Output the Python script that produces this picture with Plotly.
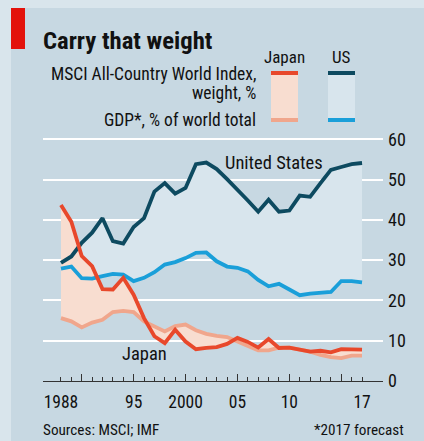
import plotly.graph_objects as go

years = list(range(1988, 2018))
us_msci = [29.3, 30.9, 34.3, 36.8, 40.4, 34.7, 34.1, 38.2, 40.4, 47.0, 49.1, 46.5, 47.9, 53.8,
           54.2, 52.6, 50.1, 47.6, 44.8, 42.0, 45.0, 42.0, 42.3, 46.0, 45.7, 49.1, 52.4, 53.1, 53.8, 54.1]
us_gdp = [27.9, 28.4, 25.5, 25.4, 26.0, 26.6, 26.4, 24.8, 25.6, 27.0, 28.9, 29.5, 30.5, 31.8,
          31.9, 29.7, 28.4, 28.1, 27.2, 25.1, 23.5, 24.1, 22.7, 21.3, 21.7, 21.8, 22.1, 24.8, 24.8, 24.5]
jp_msci = [43.7, 39.5, 31.0, 28.5, 22.8, 22.7, 25.6, 21.4, 15.6, 11.1, 9.4, 12.7, 9.8, 7.9,
           8.2, 8.4, 9.2, 10.7, 9.7, 8.3, 10.4, 8.2, 8.3, 7.8, 7.3, 7.5, 7.1, 7.9, 7.8, 7.8]
jp_gdp = [15.6, 14.8, 13.3, 14.5, 15.2, 17.1, 17.4, 17.1, 14.8, 13.6, 12.3, 13.6, 14.0, 12.6,
          11.7, 11.2, 10.9, 9.8, 8.6, 7.6, 7.6, 8.3, 8.3, 7.8, 7.3, 6.5, 5.9, 5.7, 6.3, 6.3]

label_years = [1988, 1995, 2000, 2005, 2010, 2017]
label_text = ["1988", "95", "2000", "05", "10", "17"]
long_tick_years = [1990, 1995, 2000, 2005, 2010, 2015]
y_ticks = [0, 10, 20, 30, 40, 50, 60]

C_US = "#0d4a60"
C_USG = "#1a9fd9"
C_JP = "#e8482b"
C_JPG = "#f0a68c"
F_US = "#d8e5ed"
F_JP = "#f8ddd0"
PANEL = "#c7d8e2"
OUTER = "#d9e5ec"
FONT = "Liberation Sans Narrow, Roboto Condensed, Roboto, sans-serif"

W, H = 424, 441
ML, MR, MT, MB = 43, 41, 138, 60
PW, PH = W - ML - MR, H - MT - MB

def px(x):
    return (x - ML) / PW

def py(y):
    return (H - MB - y) / PH

fig = go.Figure()
# fills
fig.add_trace(go.Scatter(x=years, y=us_gdp, mode="lines", line=dict(width=0), hoverinfo="skip", showlegend=False))
fig.add_trace(go.Scatter(x=years, y=us_msci, mode="lines", line=dict(width=0), fill="tonexty",
                         fillcolor=F_US, hoverinfo="skip", showlegend=False))
fig.add_trace(go.Scatter(x=years, y=jp_gdp, mode="lines", line=dict(width=0), hoverinfo="skip", showlegend=False))
fig.add_trace(go.Scatter(x=years, y=jp_msci, mode="lines", line=dict(width=0), fill="tonexty",
                         fillcolor=F_JP, hoverinfo="skip", showlegend=False))
# lines
for ys, c in [(us_gdp, C_USG), (us_msci, C_US), (jp_gdp, C_JPG), (jp_msci, C_JP)]:
    fig.add_trace(go.Scatter(x=years, y=ys, mode="lines", line=dict(color=c, width=3.8),
                             showlegend=False))

# long ticks axis
fig.add_trace(go.Scatter(x=[years[0]], y=[0], xaxis="x2", mode="markers",
                         marker=dict(opacity=0), hoverinfo="skip", showlegend=False))

xr = [1986.27, 2019.02]
fig.update_layout(
    width=W, height=H,
    margin=dict(l=ML, r=MR, t=MT, b=MB, pad=0),
    paper_bgcolor=OUTER, plot_bgcolor="rgba(0,0,0,0)",
    font=dict(family=FONT, size=17, color="#111111"),
    xaxis=dict(range=xr, tickmode="array", tickvals=years,
               ticktext=[label_text[label_years.index(y)] if y in label_years else "" for y in years],
               ticks="inside", ticklen=4, tickwidth=1, tickcolor="#333333",
               showline=True, linecolor="#333333", linewidth=1, showgrid=False, zeroline=False,
               tickfont=dict(size=17.5), ticklabelstandoff=5),
    xaxis2=dict(range=xr, overlaying="x", anchor="y", side="bottom", tickmode="array",
                tickvals=long_tick_years, showticklabels=False, ticks="inside", ticklen=7,
                tickwidth=1, tickcolor="#333333", showgrid=False, zeroline=False, showline=False),
    yaxis=dict(range=[0, 60.3], side="right", tickmode="array", tickvals=y_ticks,
               showgrid=True, gridcolor="#ffffff", gridwidth=1.6, zeroline=False,
               ticks="", tickfont=dict(size=18), ticklabelstandoff=4),
    showlegend=False,
)

shapes = [
    dict(type="rect", xref="paper", yref="paper", x0=px(11), x1=px(430), y0=py(450), y1=py(8),
         fillcolor=PANEL, line=dict(width=0), layer="below"),
    dict(type="rect", xref="paper", yref="paper", x0=px(11), x1=px(25), y0=py(49), y1=py(8),
         fillcolor="#e3120b", line=dict(width=0), layer="above"),
    # legend swatches
    dict(type="rect", xref="paper", yref="paper", x0=px(271), x1=px(298), y0=py(121), y1=py(72),
         fillcolor=F_JP, line=dict(width=0)),
    dict(type="rect", xref="paper", yref="paper", x0=px(271), x1=px(298), y0=py(75), y1=py(71),
         fillcolor=C_JP, line=dict(width=0)),
    dict(type="rect", xref="paper", yref="paper", x0=px(271), x1=px(298), y0=py(122), y1=py(118),
         fillcolor=C_JPG, line=dict(width=0)),
    dict(type="rect", xref="paper", yref="paper", x0=px(328), x1=px(355), y0=py(121), y1=py(72),
         fillcolor=F_US, line=dict(width=0)),
    dict(type="rect", xref="paper", yref="paper", x0=px(328), x1=px(355), y0=py(75), y1=py(71),
         fillcolor=C_US, line=dict(width=0)),
    dict(type="rect", xref="paper", yref="paper", x0=px(328), x1=px(355), y0=py(122), y1=py(118),
         fillcolor=C_USG, line=dict(width=0)),
]
fig.update_layout(shapes=shapes)

def ann(text, x, y, xanchor="left", size=17.5, bold=False, ref="paper"):
    t = f"<b>{text}</b>" if bold else text
    if ref == "paper":
        return dict(text=t, x=px(x), y=py(y), xref="paper", yref="paper", xanchor=xanchor,
                    yanchor="middle", showarrow=False, font=dict(size=size))
    return dict(text=t, x=x, y=y, xref="x", yref="y", xanchor=xanchor, yanchor="middle",
                showarrow=False, font=dict(size=size))

annotations = [
    ann("Carry that weight", 41, 40, size=24.7, bold=True),
    ann("Japan", 284.5, 57, xanchor="center", size=17),
    ann("US", 341.5, 57, xanchor="center", size=17),
    ann("MSCI All-Country World Index,", 258, 74, xanchor="right"),
    ann("weight, %", 258, 93, xanchor="right"),
    ann("GDP*, % of world total", 258, 120, xanchor="right"),
    ann("Sources: MSCI; IMF", 41, 430, size=15.2),
    ann("*2017 forecast", 406, 430, xanchor="right", size=15.2),
    ann("United States", 2008.5, 54.1, xanchor="center", size=18.5, ref="data"),
    ann("Japan", 1996.0, 6.7, xanchor="center", size=18.5, ref="data"),
]
fig.update_layout(annotations=annotations)

fig.write_html("out.html", config={"displayModeBar": False},
               post_script="document.body.style.margin='0';")
